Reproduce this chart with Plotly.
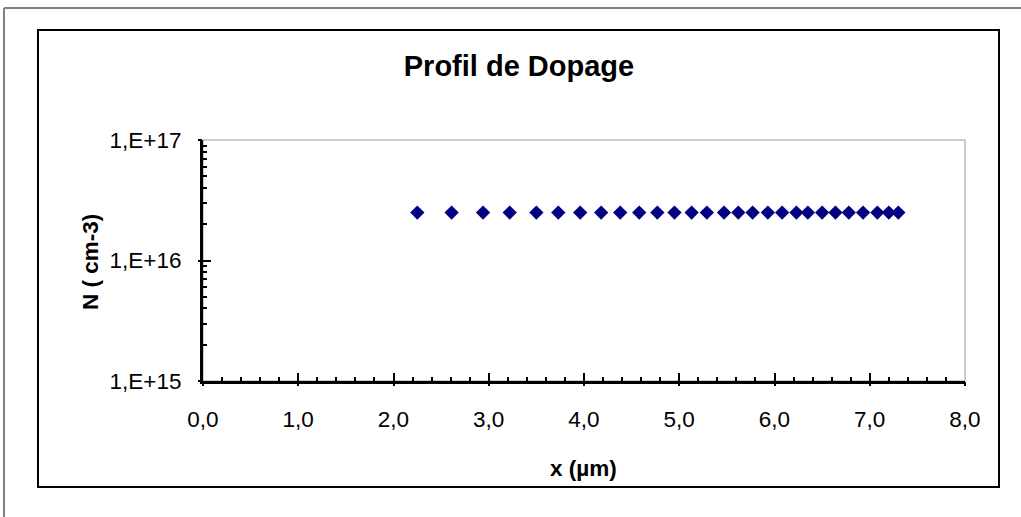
import plotly.graph_objects as go

# ---- data ----
x_um = [2.25, 2.61, 2.94, 3.22, 3.50, 3.73, 3.96, 4.18, 4.38, 4.58, 4.77, 4.95,
        5.13, 5.29, 5.47, 5.62, 5.77, 5.93, 6.08, 6.23, 6.35, 6.50, 6.64, 6.78,
        6.93, 7.08, 7.20, 7.30]
N_cm3 = [2.5e16] * len(x_um)

x_ticks = [0, 1, 2, 3, 4, 5, 6, 7, 8]
x_ticktext = ["0,0", "1,0", "2,0", "3,0", "4,0", "5,0", "6,0", "7,0", "8,0"]
y_ticks = [1e15, 1e16, 1e17]
y_ticktext = ["1,E+15", "1,E+16", "1,E+17"]

W, H = 1021, 517
# plot area in screen pixels
L, R, T, B = 203, 965, 140, 381


def px(X):
    return (X - L) / (R - L)


def py(Y):
    return (B - Y) / (B - T)


FONT = "Liberation Sans, Arial, sans-serif"
TICK = 22.5
AX = 22.5

fig = go.Figure()
fig.add_trace(go.Scatter(
    x=x_um, y=N_cm3, mode="markers",
    marker=dict(symbol="diamond", size=11, color="#000080",
                line=dict(width=0)),
    showlegend=False, cliponaxis=False,
))
# helper (empty) trace so that the crossing part of the major ticks is drawn
fig.add_trace(go.Scatter(x=[None], y=[None], xaxis="x2", yaxis="y2",
                         showlegend=False, hoverinfo="skip"))

fig.update_layout(
    width=W, height=H,
    margin=dict(l=L, r=W - R, t=T, b=H - B, pad=0),
    paper_bgcolor="white", plot_bgcolor="white",
    font=dict(family=FONT, size=TICK, color="black"),
    title=dict(text="<b>Profil de Dopage</b>", font=dict(size=29, family=FONT),
               x=519 / W, xanchor="center", xref="container",
               y=1 - 66 / H, yanchor="middle", yref="container"),
    xaxis=dict(range=[0, 8], tickvals=x_ticks, ticktext=x_ticktext,
               showgrid=False, zeroline=False, showline=True,
               linecolor="black", linewidth=3,
               ticks="inside", ticklen=8, tickwidth=2, tickcolor="black",
               minor=dict(dtick=0.2, ticks="inside", ticklen=4, tickwidth=2,
                          tickcolor="black", showgrid=False),
               ticklabelstandoff=16,
               tickfont=dict(size=TICK, family=FONT)),
    yaxis=dict(type="log", range=[15, 17], tickvals=y_ticks, ticktext=y_ticktext,
               showgrid=False, zeroline=False, showline=True,
               linecolor="black", linewidth=3,
               ticks="inside", ticklen=8, tickwidth=2, tickcolor="black",
               minor=dict(dtick="D1", ticks="inside", ticklen=4, tickwidth=2,
                          tickcolor="black", showgrid=False),
               ticklabelstandoff=14,
               tickfont=dict(size=TICK, family=FONT)),
    xaxis2=dict(overlaying="x", anchor="y", side="bottom", range=[0, 8],
                tickvals=x_ticks, showticklabels=False, ticks="outside",
                ticklen=4, tickwidth=2, tickcolor="black", showgrid=False,
                zeroline=False, showline=False),
    yaxis2=dict(overlaying="y", anchor="x", side="left", type="log",
                range=[15, 17], tickvals=y_ticks, showticklabels=False,
                ticks="outside", ticklen=4, tickwidth=2, tickcolor="black",
                showgrid=False, zeroline=False, showline=False),
)

shapes = [
    # plot area border (gray, top and right)
    dict(type="rect", xref="x domain", yref="y domain", x0=0, x1=1, y0=0, y1=1,
         line=dict(color="#999999", width=1), layer="below"),
    # inner black chart frame
    dict(type="rect", xref="paper", yref="paper",
         x0=px(38), x1=px(999), y0=py(487), y1=py(30),
         line=dict(color="black", width=2)),
    # outer gray frame (top and left lines)
    dict(type="line", xref="paper", yref="paper",
         x0=px(4), x1=px(1030), y0=py(8), y1=py(8),
         line=dict(color="#808080", width=2)),
    dict(type="line", xref="paper", yref="paper",
         x0=px(4), x1=px(4), y0=py(8), y1=py(530),
         line=dict(color="#808080", width=2)),
]
fig.update_layout(shapes=shapes)

fig.add_annotation(text="<b>x (µm)</b>", xref="paper", yref="paper",
                   x=px(583), y=py(468), showarrow=False,
                   font=dict(size=AX, family=FONT), xanchor="center", yanchor="middle")
fig.add_annotation(text="<b>N ( cm-3)</b>", xref="paper", yref="paper",
                   x=px(90), y=py(262), showarrow=False, textangle=-90,
                   font=dict(size=AX, family=FONT), xanchor="center", yanchor="middle")

fig.write_html("out.html",
               config={"displayModeBar": False},
               post_script="document.body.style.margin='0px';"
                           "document.body.style.padding='0px';")
